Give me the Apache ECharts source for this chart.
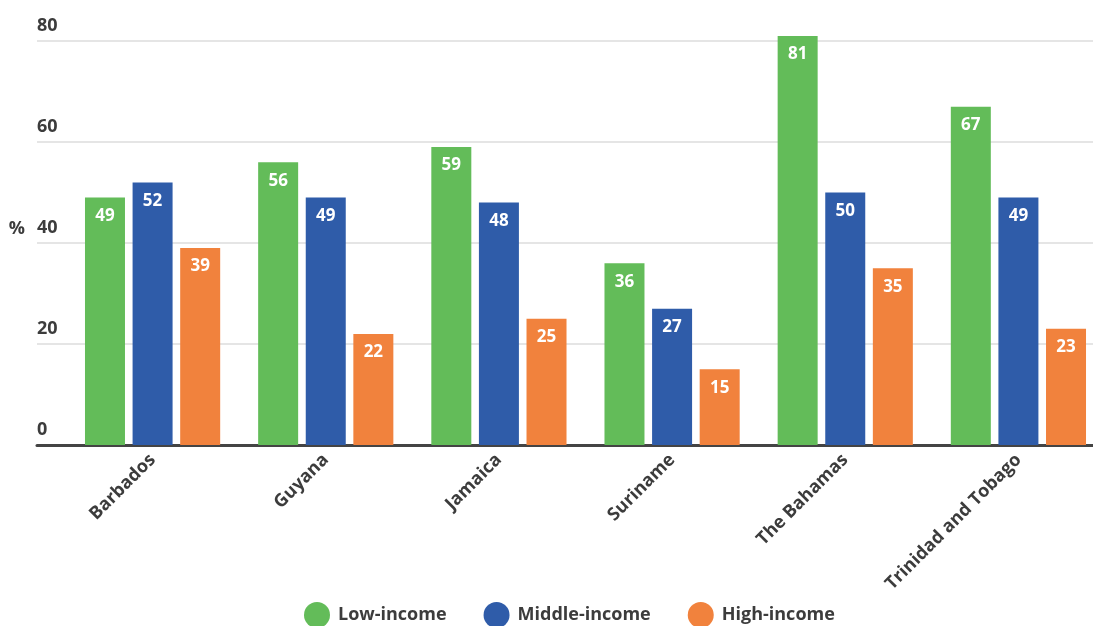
<!DOCTYPE html>
<html>
<head>
<meta charset="utf-8">
<script src="https://cdn.jsdelivr.net/npm/echarts@6/dist/echarts.min.js"></script>
<style>html,body{margin:0;padding:0;background:#fff}#c{width:1093px;height:626px}</style>
</head>
<body>
<div id="c"></div>
<script>
const categories = ['Barbados', 'Guyana', 'Jamaica', 'Suriname', 'The Bahamas', 'Trinidad and Tobago'];
const lowIncome = [49, 56, 59, 36, 81, 67];
const middleIncome = [52, 49, 48, 27, 50, 49];
const highIncome = [39, 22, 25, 15, 35, 23];
const seriesNames = ['Low-income', 'Middle-income', 'High-income'];
const yTicks = [0, 20, 40, 60, 80];

const FONT = '"Open Sans", "Noto Sans", sans-serif';
const colors = ['#63BC59', '#2F5CA9', '#F1823D'];

const chart = echarts.init(document.getElementById('c'), null, {renderer: 'canvas'});

const labelCfg = {
  show: true, position: 'insideTop', distance: 10,
  color: '#fff', fontFamily: FONT, fontWeight: 'bold', fontSize: 17
};

function bar(name, data, i) {
  return {
    name: name, type: 'bar', data: data, xAxisIndex: 1, yAxisIndex: 1,
    barWidth: 40, barGap: '19%', clip: false,
    itemStyle: {color: colors[i]}, label: labelCfg,
    emphasis: {disabled: true}
  };
}

chart.setOption({
  animation: false,
  color: colors,
  textStyle: {fontFamily: FONT},
  legend: {
    data: seriesNames, left: 299, top: 597, icon: 'circle',
    itemWidth: 26, itemHeight: 26, itemGap: 37,
    textStyle: {fontFamily: FONT, fontWeight: 'bold', fontSize: 18, color: '#3c3c3c', padding: [0, 0, 0, 3]}
  },
  grid: [
    {left: 37, right: 0, top: 41, bottom: 181, outerBoundsMode: 'none', containLabel: false},
    {left: 66, right: -12, top: 41, bottom: 181, outerBoundsMode: 'none', containLabel: false}
  ],
  xAxis: [
    {gridIndex: 0, type: 'category', data: [''], axisLabel: {show: false}, axisTick: {show: false},
     axisLine: {show: true, lineStyle: {color: '#444', width: 3}}},
    {gridIndex: 1, type: 'category', data: categories, axisTick: {show: false}, axisLine: {show: false},
     axisLabel: {rotate: 45, interval: 0, margin: 12, fontFamily: FONT, fontWeight: 'bold', fontSize: 18, color: '#3c3c3c', padding: [0, 0, 0, 0]}}
  ],
  yAxis: [
    {gridIndex: 0, type: 'value', min: yTicks[0], max: yTicks[yTicks.length - 1], interval: 20,
     name: '%', nameLocation: 'middle', nameRotate: 0, nameGap: 12,
     nameTextStyle: {fontFamily: FONT, fontWeight: 'bold', fontSize: 18, color: '#3c3c3c', align: 'right', verticalAlign: 'bottom', padding: [0, 0, 5, 0]},
     axisLine: {show: false}, axisTick: {show: false},
     axisLabel: {inside: true, margin: 0, verticalAlign: 'bottom', align: 'left', padding: [0, 0, 6, 0],
       fontFamily: FONT, fontWeight: 'bold', fontSize: 18, color: '#3c3c3c'},
     splitLine: {show: true, lineStyle: {color: '#dcdcdc', width: 1.5}}},
    {gridIndex: 1, type: 'value', min: 0, max: 80, interval: 20, show: false, splitLine: {show: false}}
  ],
  series: [
    bar(seriesNames[0], lowIncome, 0),
    bar(seriesNames[1], middleIncome, 1),
    bar(seriesNames[2], highIncome, 2)
  ]
});
</script>
</body>
</html>
